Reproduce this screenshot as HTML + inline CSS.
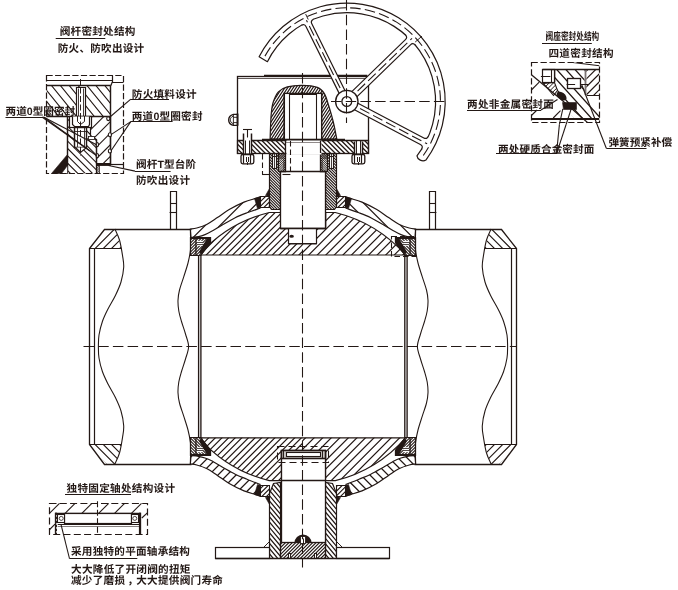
<!DOCTYPE html>
<html lang="zh"><head><meta charset="utf-8"><title>ball valve</title>
<style>
html,body{margin:0;padding:0;background:#fff}
svg{display:block}
text{text-rendering:geometricPrecision;font-family:"Liberation Sans","Noto Sans CJK SC",sans-serif;fill:#231815}
</style></head><body>
<svg width="678" height="590" viewBox="0 0 678 590">
<defs>

</defs>
<rect width="678" height="590" fill="#fff"/>
<g>
<clipPath id="c1"><path d="M107.5 229.5 L89.5 248.5 L121.5 248.5 L114.9 229 Z"/></clipPath>
<path clip-path="url(#c1)" d="M88.5 230.49L90.99 228M88.5 238.69L99.19 228M88.5 246.89L107.39 228M94.1 249.5L115.6 228M102.3 249.5L122.5 229.3M110.5 249.5L122.5 237.5M118.7 249.5L122.5 245.7" fill="none" stroke="#231815" stroke-width="1.15"/>
<clipPath id="c2"><path d="M107.5 464.5 L89.5 444.5 L121.5 444.5 L115.5 464.5 Z"/></clipPath>
<path clip-path="url(#c2)" d="M91.5 465.5L88.5 462.5M99.7 465.5L88.5 454.3M107.9 465.5L88.5 446.1M116.1 465.5L94.1 443.5M122.5 463.69L102.31 443.5M122.5 455.49L110.51 443.5M122.5 447.29L118.71 443.5" fill="none" stroke="#231815" stroke-width="1.15"/>
<path d="M191.5 229.5 L104.5 229.5 L89.5 248.5 L89.5 444.5 L104.5 464.5 L191.5 464.5" fill="none" stroke="#231815" stroke-width="1.32" />
<line x1="94.5" y1="248.4" x2="94.5" y2="444.6" stroke="#231815" stroke-width="1.2" />
<line x1="89.4" y1="248.5" x2="121.8" y2="248.5" stroke="#231815" stroke-width="1.2" />
<line x1="89.4" y1="444.5" x2="121.2" y2="444.5" stroke="#231815" stroke-width="1.2" />
<path d="M114.9 229 C115.67 230.83 118.23 235.6 119.5 240 C120.77 244.4 121.8 250.87 122.5 255.4 C123.2 259.93 123.95 262.77 123.7 267.2 C123.45 271.63 122.38 277.28 121 282 C119.62 286.72 117.57 291 115.4 295.5 C113.23 300 110.17 304.67 108 309 C105.83 313.33 103.9 317.17 102.4 321.5 C100.9 325.83 99.67 330.83 99 335 C98.33 339.17 98.4 342.67 98.4 346.5 C98.4 350.33 98.33 353.83 99 358 C99.67 362.17 100.9 367.17 102.4 371.5 C103.9 375.83 105.83 379.67 108 384 C110.17 388.33 113.23 393 115.4 397.5 C117.57 402 119.62 406.28 121 411 C122.38 415.72 123.45 421.37 123.7 425.8 C123.95 430.23 123.2 433.07 122.5 437.6 C121.8 442.13 120.77 448.6 119.5 453 C118.23 457.4 115.67 462.17 114.9 464" fill="none" stroke="#231815" stroke-width="1.08" />
<path d="M190.4 229 C190.5 230.83 191 236.38 191 240 C191 243.62 190.9 246.87 190.4 250.7 C189.9 254.53 189.1 258.68 188 263 C186.9 267.32 185.22 272.1 183.8 276.6 C182.38 281.1 180.47 286.07 179.5 290 C178.53 293.93 178.12 296.7 178 300.2 C177.88 303.7 178.22 307.45 178.8 311 C179.38 314.55 180.38 317.67 181.5 321.5 C182.62 325.33 184.32 329.83 185.5 334 C186.68 338.17 188.6 342.33 188.6 346.5 C188.6 350.67 186.68 354.83 185.5 359 C184.32 363.17 182.62 367.67 181.5 371.5 C180.38 375.33 179.38 378.45 178.8 382 C178.22 385.55 177.88 389.3 178 392.8 C178.12 396.3 178.53 399.07 179.5 403 C180.47 406.93 182.38 411.9 183.8 416.4 C185.22 420.9 186.9 425.68 188 430 C189.1 434.32 189.9 438.47 190.4 442.3 C190.9 446.13 191 449.38 191 453 C191 456.62 190.5 462.17 190.4 464" fill="none" stroke="#231815" stroke-width="1.08" />
<path d="M170.5 229.5 L170.5 191.5 L176.5 191.5 L176.5 229.5" fill="none" stroke="#231815" stroke-width="1.2" />
<line x1="170.4" y1="203.5" x2="176" y2="203.5" stroke="#231815" stroke-width="1.08" />
<line x1="169.6" y1="212.5" x2="176.8" y2="212.5" stroke="#231815" stroke-width="1.08" />
</g>
<g transform="translate(606 0) scale(-1 1)">
<clipPath id="c3"><path d="M107.5 229.5 L89.5 248.5 L121.5 248.5 L114.9 229 Z"/></clipPath>
<path clip-path="url(#c3)" d="M88.5 230.49L90.99 228M88.5 238.69L99.19 228M88.5 246.89L107.39 228M94.1 249.5L115.6 228M102.3 249.5L122.5 229.3M110.5 249.5L122.5 237.5M118.7 249.5L122.5 245.7" fill="none" stroke="#231815" stroke-width="1.15"/>
<clipPath id="c4"><path d="M107.5 464.5 L89.5 444.5 L121.5 444.5 L115.5 464.5 Z"/></clipPath>
<path clip-path="url(#c4)" d="M91.5 465.5L88.5 462.5M99.7 465.5L88.5 454.3M107.9 465.5L88.5 446.1M116.1 465.5L94.1 443.5M122.5 463.69L102.31 443.5M122.5 455.49L110.51 443.5M122.5 447.29L118.71 443.5" fill="none" stroke="#231815" stroke-width="1.15"/>
<path d="M191.5 229.5 L104.5 229.5 L89.5 248.5 L89.5 444.5 L104.5 464.5 L191.5 464.5" fill="none" stroke="#231815" stroke-width="1.32" />
<line x1="94.5" y1="248.4" x2="94.5" y2="444.6" stroke="#231815" stroke-width="1.2" />
<line x1="89.4" y1="248.5" x2="121.8" y2="248.5" stroke="#231815" stroke-width="1.2" />
<line x1="89.4" y1="444.5" x2="121.2" y2="444.5" stroke="#231815" stroke-width="1.2" />
<path d="M114.9 229 C115.67 230.83 118.23 235.6 119.5 240 C120.77 244.4 121.8 250.87 122.5 255.4 C123.2 259.93 123.95 262.77 123.7 267.2 C123.45 271.63 122.38 277.28 121 282 C119.62 286.72 117.57 291 115.4 295.5 C113.23 300 110.17 304.67 108 309 C105.83 313.33 103.9 317.17 102.4 321.5 C100.9 325.83 99.67 330.83 99 335 C98.33 339.17 98.4 342.67 98.4 346.5 C98.4 350.33 98.33 353.83 99 358 C99.67 362.17 100.9 367.17 102.4 371.5 C103.9 375.83 105.83 379.67 108 384 C110.17 388.33 113.23 393 115.4 397.5 C117.57 402 119.62 406.28 121 411 C122.38 415.72 123.45 421.37 123.7 425.8 C123.95 430.23 123.2 433.07 122.5 437.6 C121.8 442.13 120.77 448.6 119.5 453 C118.23 457.4 115.67 462.17 114.9 464" fill="none" stroke="#231815" stroke-width="1.08" />
<path d="M190.4 229 C190.5 230.83 191 236.38 191 240 C191 243.62 190.9 246.87 190.4 250.7 C189.9 254.53 189.1 258.68 188 263 C186.9 267.32 185.22 272.1 183.8 276.6 C182.38 281.1 180.47 286.07 179.5 290 C178.53 293.93 178.12 296.7 178 300.2 C177.88 303.7 178.22 307.45 178.8 311 C179.38 314.55 180.38 317.67 181.5 321.5 C182.62 325.33 184.32 329.83 185.5 334 C186.68 338.17 188.6 342.33 188.6 346.5 C188.6 350.67 186.68 354.83 185.5 359 C184.32 363.17 182.62 367.67 181.5 371.5 C180.38 375.33 179.38 378.45 178.8 382 C178.22 385.55 177.88 389.3 178 392.8 C178.12 396.3 178.53 399.07 179.5 403 C180.47 406.93 182.38 411.9 183.8 416.4 C185.22 420.9 186.9 425.68 188 430 C189.1 434.32 189.9 438.47 190.4 442.3 C190.9 446.13 191 449.38 191 453 C191 456.62 190.5 462.17 190.4 464" fill="none" stroke="#231815" stroke-width="1.08" />
<path d="M170.5 229.5 L170.5 191.5 L176.5 191.5 L176.5 229.5" fill="none" stroke="#231815" stroke-width="1.2" />
<line x1="170.4" y1="203.5" x2="176" y2="203.5" stroke="#231815" stroke-width="1.08" />
<line x1="169.6" y1="212.5" x2="176.8" y2="212.5" stroke="#231815" stroke-width="1.08" />
</g>
<g>
<clipPath id="c5"><path d="M190.4 229 C191.47 228.83 194.02 228.8 196.8 228 C199.58 227.2 203.67 225.93 207.1 224.2 C210.53 222.47 213.72 220.05 217.4 217.6 C221.08 215.15 224.77 212.08 229.2 209.5 C233.63 206.92 239.57 203.95 244 202.1 C248.43 200.25 253.13 199.25 255.8 198.4 C258.47 197.55 259.3 197.23 260 197 L260 208.2 C257.83 208.97 251.13 211.22 247 212.8 C242.87 214.38 239.2 215.75 235.2 217.7 C231.2 219.65 226.93 222.23 223 224.5 C219.07 226.77 214.6 229.62 211.6 231.3 C208.6 232.98 207.17 233.72 205 234.6 C202.83 235.48 201 236.13 198.6 236.6 C196.2 237.07 191.93 237.27 190.6 237.4 Z"/></clipPath>
<path clip-path="url(#c5)" d="M189.4 196.68L190.08 196M189.4 211.53L204.93 196M189.4 226.38L219.78 196M192.23 238.4L234.63 196M207.08 238.4L249.48 196M221.93 238.4L261 199.33M236.78 238.4L261 214.18M251.62 238.4L261 229.02" fill="none" stroke="#231815" stroke-width="1.25"/>
<path d="M190.4 229 C191.47 228.83 194.02 228.8 196.8 228 C199.58 227.2 203.67 225.93 207.1 224.2 C210.53 222.47 213.72 220.05 217.4 217.6 C221.08 215.15 224.77 212.08 229.2 209.5 C233.63 206.92 239.57 203.95 244 202.1 C248.43 200.25 253.13 199.25 255.8 198.4 C258.47 197.55 259.3 197.23 260 197 L260 208.2 C257.83 208.97 251.13 211.22 247 212.8 C242.87 214.38 239.2 215.75 235.2 217.7 C231.2 219.65 226.93 222.23 223 224.5 C219.07 226.77 214.6 229.62 211.6 231.3 C208.6 232.98 207.17 233.72 205 234.6 C202.83 235.48 201 236.13 198.6 236.6 C196.2 237.07 191.93 237.27 190.6 237.4 Z" fill="none" stroke="#231815" stroke-width="1.2" />
<clipPath id="c6"><path d="M260.5 196.5 L269.5 196.5 L269.5 207.5 L260.5 207.5 Z"/></clipPath>
<path clip-path="url(#c6)" d="M259.5 197.86L261.86 195.5M259.5 202.52L266.52 195.5M259.5 207.19L270.5 196.19M262.86 208.5L270.5 200.86M267.52 208.5L270.5 205.52" fill="none" stroke="#231815" stroke-width="1.15"/>
<path d="M260.5 196.5 L269.5 196.5 L269.5 207.5 L260.5 207.5 Z" fill="none" stroke="#231815" stroke-width="1.08" />
<path d="M254.5 198.5 L260.5 196.5 L260.5 207.5 L257.5 208.5 Z" fill="#231815" stroke="#231815" stroke-width="0.6" />
<path d="M265.5 195.5 L269.5 188.5 L269.5 196.5 Z" fill="#231815" stroke="#231815" stroke-width="0.6" />
</g>
<g transform="translate(0 693) scale(1 -1)">
<clipPath id="c7"><path d="M190.4 229 C191.47 228.83 194.02 228.8 196.8 228 C199.58 227.2 203.67 225.93 207.1 224.2 C210.53 222.47 213.72 220.05 217.4 217.6 C221.08 215.15 224.77 212.08 229.2 209.5 C233.63 206.92 239.57 203.95 244 202.1 C248.43 200.25 253.13 199.25 255.8 198.4 C258.47 197.55 259.3 197.23 260 197 L260 208.6 C257.83 209.47 251.13 212.1 247 213.8 C242.87 215.5 239.2 216.83 235.2 218.8 C231.2 220.77 226.93 223.37 223 225.6 C219.07 227.83 214.6 230.63 211.6 232.2 C208.6 233.77 207.17 234.27 205 235 C202.83 235.73 201 236.2 198.6 236.6 C196.2 237 191.93 237.27 190.6 237.4 Z"/></clipPath>
<path clip-path="url(#c7)" d="M193.15 238.4L189.4 234.65M202.2 238.4L189.4 225.6M211.25 238.4L189.4 216.55M220.3 238.4L189.4 207.5M229.35 238.4L189.4 198.45M238.4 238.4L196 196M247.45 238.4L205.05 196M256.5 238.4L214.1 196M261 233.85L223.15 196M261 224.8L232.2 196M261 215.75L241.25 196M261 206.69L250.31 196M261 197.64L259.36 196" fill="none" stroke="#231815" stroke-width="1.3"/>
<path d="M190.4 229 C191.47 228.83 194.02 228.8 196.8 228 C199.58 227.2 203.67 225.93 207.1 224.2 C210.53 222.47 213.72 220.05 217.4 217.6 C221.08 215.15 224.77 212.08 229.2 209.5 C233.63 206.92 239.57 203.95 244 202.1 C248.43 200.25 253.13 199.25 255.8 198.4 C258.47 197.55 259.3 197.23 260 197 L260 208.6 C257.83 209.47 251.13 212.1 247 213.8 C242.87 215.5 239.2 216.83 235.2 218.8 C231.2 220.77 226.93 223.37 223 225.6 C219.07 227.83 214.6 230.63 211.6 232.2 C208.6 233.77 207.17 234.27 205 235 C202.83 235.73 201 236.2 198.6 236.6 C196.2 237 191.93 237.27 190.6 237.4 Z" fill="none" stroke="#231815" stroke-width="1.2" />
<clipPath id="c8"><path d="M260.5 196.5 L269.5 196.5 L269.5 207.5 L260.5 207.5 Z"/></clipPath>
<path clip-path="url(#c8)" d="M259.84 208.5L259.5 208.16M264.5 208.5L259.5 203.5M269.17 208.5L259.5 198.83M270.5 205.16L260.84 195.5M270.5 200.5L265.5 195.5M270.5 195.83L270.17 195.5" fill="none" stroke="#231815" stroke-width="1.15"/>
<path d="M260.5 196.5 L269.5 196.5 L269.5 207.5 L260.5 207.5 Z" fill="none" stroke="#231815" stroke-width="1.08" />
<path d="M254.5 198.5 L260.5 196.5 L260.5 207.5 L257.5 208.5 Z" fill="#231815" stroke="#231815" stroke-width="0.6" />
<path d="M265.5 195.5 L269.5 188.5 L269.5 196.5 Z" fill="#231815" stroke="#231815" stroke-width="0.6" />
</g>
<g transform="translate(606 0) scale(-1 1)">
<clipPath id="c9"><path d="M190.4 229 C191.47 228.83 194.02 228.8 196.8 228 C199.58 227.2 203.67 225.93 207.1 224.2 C210.53 222.47 213.72 220.05 217.4 217.6 C221.08 215.15 224.77 212.08 229.2 209.5 C233.63 206.92 239.57 203.95 244 202.1 C248.43 200.25 253.13 199.25 255.8 198.4 C258.47 197.55 259.3 197.23 260 197 L260 208.2 C257.83 208.97 251.13 211.22 247 212.8 C242.87 214.38 239.2 215.75 235.2 217.7 C231.2 219.65 226.93 222.23 223 224.5 C219.07 226.77 214.6 229.62 211.6 231.3 C208.6 232.98 207.17 233.72 205 234.6 C202.83 235.48 201 236.13 198.6 236.6 C196.2 237.07 191.93 237.27 190.6 237.4 Z"/></clipPath>
<path clip-path="url(#c9)" d="M189.4 196.68L190.08 196M189.4 211.53L204.93 196M189.4 226.38L219.78 196M192.23 238.4L234.63 196M207.08 238.4L249.48 196M221.93 238.4L261 199.33M236.78 238.4L261 214.18M251.62 238.4L261 229.02" fill="none" stroke="#231815" stroke-width="1.25"/>
<path d="M190.4 229 C191.47 228.83 194.02 228.8 196.8 228 C199.58 227.2 203.67 225.93 207.1 224.2 C210.53 222.47 213.72 220.05 217.4 217.6 C221.08 215.15 224.77 212.08 229.2 209.5 C233.63 206.92 239.57 203.95 244 202.1 C248.43 200.25 253.13 199.25 255.8 198.4 C258.47 197.55 259.3 197.23 260 197 L260 208.2 C257.83 208.97 251.13 211.22 247 212.8 C242.87 214.38 239.2 215.75 235.2 217.7 C231.2 219.65 226.93 222.23 223 224.5 C219.07 226.77 214.6 229.62 211.6 231.3 C208.6 232.98 207.17 233.72 205 234.6 C202.83 235.48 201 236.13 198.6 236.6 C196.2 237.07 191.93 237.27 190.6 237.4 Z" fill="none" stroke="#231815" stroke-width="1.2" />
<clipPath id="c10"><path d="M260.5 196.5 L269.5 196.5 L269.5 207.5 L260.5 207.5 Z"/></clipPath>
<path clip-path="url(#c10)" d="M259.84 208.5L259.5 208.16M264.5 208.5L259.5 203.5M269.17 208.5L259.5 198.83M270.5 205.16L260.84 195.5M270.5 200.5L265.5 195.5M270.5 195.83L270.17 195.5" fill="none" stroke="#231815" stroke-width="1.15"/>
<path d="M260.5 196.5 L269.5 196.5 L269.5 207.5 L260.5 207.5 Z" fill="none" stroke="#231815" stroke-width="1.08" />
<path d="M254.5 198.5 L260.5 196.5 L260.5 207.5 L257.5 208.5 Z" fill="#231815" stroke="#231815" stroke-width="0.6" />
<path d="M265.5 195.5 L269.5 188.5 L269.5 196.5 Z" fill="#231815" stroke="#231815" stroke-width="0.6" />
</g>
<g transform="translate(606 0) scale(-1 1) translate(0 693) scale(1 -1)">
<clipPath id="c11"><path d="M190.4 229 C191.47 228.83 194.02 228.8 196.8 228 C199.58 227.2 203.67 225.93 207.1 224.2 C210.53 222.47 213.72 220.05 217.4 217.6 C221.08 215.15 224.77 212.08 229.2 209.5 C233.63 206.92 239.57 203.95 244 202.1 C248.43 200.25 253.13 199.25 255.8 198.4 C258.47 197.55 259.3 197.23 260 197 L260 208.6 C257.83 209.47 251.13 212.1 247 213.8 C242.87 215.5 239.2 216.83 235.2 218.8 C231.2 220.77 226.93 223.37 223 225.6 C219.07 227.83 214.6 230.63 211.6 232.2 C208.6 233.77 207.17 234.27 205 235 C202.83 235.73 201 236.2 198.6 236.6 C196.2 237 191.93 237.27 190.6 237.4 Z"/></clipPath>
<path clip-path="url(#c11)" d="M193.15 238.4L189.4 234.65M202.2 238.4L189.4 225.6M211.25 238.4L189.4 216.55M220.3 238.4L189.4 207.5M229.35 238.4L189.4 198.45M238.4 238.4L196 196M247.45 238.4L205.05 196M256.5 238.4L214.1 196M261 233.85L223.15 196M261 224.8L232.2 196M261 215.75L241.25 196M261 206.69L250.31 196M261 197.64L259.36 196" fill="none" stroke="#231815" stroke-width="1.3"/>
<path d="M190.4 229 C191.47 228.83 194.02 228.8 196.8 228 C199.58 227.2 203.67 225.93 207.1 224.2 C210.53 222.47 213.72 220.05 217.4 217.6 C221.08 215.15 224.77 212.08 229.2 209.5 C233.63 206.92 239.57 203.95 244 202.1 C248.43 200.25 253.13 199.25 255.8 198.4 C258.47 197.55 259.3 197.23 260 197 L260 208.6 C257.83 209.47 251.13 212.1 247 213.8 C242.87 215.5 239.2 216.83 235.2 218.8 C231.2 220.77 226.93 223.37 223 225.6 C219.07 227.83 214.6 230.63 211.6 232.2 C208.6 233.77 207.17 234.27 205 235 C202.83 235.73 201 236.2 198.6 236.6 C196.2 237 191.93 237.27 190.6 237.4 Z" fill="none" stroke="#231815" stroke-width="1.2" />
<clipPath id="c12"><path d="M260.5 196.5 L269.5 196.5 L269.5 207.5 L260.5 207.5 Z"/></clipPath>
<path clip-path="url(#c12)" d="M259.5 197.86L261.86 195.5M259.5 202.52L266.52 195.5M259.5 207.19L270.5 196.19M262.86 208.5L270.5 200.86M267.52 208.5L270.5 205.52" fill="none" stroke="#231815" stroke-width="1.15"/>
<path d="M260.5 196.5 L269.5 196.5 L269.5 207.5 L260.5 207.5 Z" fill="none" stroke="#231815" stroke-width="1.08" />
<path d="M254.5 198.5 L260.5 196.5 L260.5 207.5 L257.5 208.5 Z" fill="#231815" stroke="#231815" stroke-width="0.6" />
<path d="M265.5 195.5 L269.5 188.5 L269.5 196.5 Z" fill="#231815" stroke="#231815" stroke-width="0.6" />
</g>
<clipPath id="cpL"><rect x="0" y="0" width="302.4" height="590"/></clipPath><clipPath id="cpR"><rect x="302.4" y="0" width="400" height="590"/></clipPath>
<g clip-path="url(#cpL)">
<clipPath id="c13"><path d="M199 255 A138 138 0 0 1 269.32 212.5 L280.7 212.5 L280.7 228.3 L288.6 228.3 L288.6 243.8 L316.2 243.8 L316.2 228.3 L325.7 228.3 L325.7 212.5 L335.28 212.5 A138 138 0 0 1 405.6 255 Z"/></clipPath>
<path clip-path="url(#c13)" d="M189 206.02L191.02 204M189 212.64L197.64 204M189 219.26L204.26 204M189 225.87L210.87 204M189 232.49L217.49 204M189 239.11L224.11 204M189 245.73L230.73 204M189 252.35L237.35 204M189 258.97L243.97 204M193.58 261L250.58 204M200.2 261L257.2 204M206.82 261L263.82 204M213.44 261L270.44 204M220.06 261L277.06 204M226.68 261L283.68 204M233.3 261L290.3 204M239.91 261L296.91 204M246.53 261L303.53 204M253.15 261L304 210.15M259.77 261L304 216.77M266.39 261L304 223.39M273.01 261L304 230.01M279.63 261L304 236.63M286.24 261L304 243.24M292.86 261L304 249.86M299.48 261L304 256.48" fill="none" stroke="#231815" stroke-width="1.2"/>
</g>
<g clip-path="url(#cpR)">
<clipPath id="c14"><path d="M199 255 A138 138 0 0 1 269.32 212.5 L280.7 212.5 L280.7 228.3 L288.6 228.3 L288.6 243.8 L316.2 243.8 L316.2 228.3 L325.7 228.3 L325.7 212.5 L335.28 212.5 A138 138 0 0 1 405.6 255 Z"/></clipPath>
<path clip-path="url(#c14)" d="M301 211.37L308.37 204M301 219.93L316.93 204M301 228.48L325.48 204M301 237.04L334.04 204M301 245.59L342.59 204M301 254.15L351.15 204M302.71 261L359.71 204M311.26 261L368.26 204M319.82 261L376.82 204M328.37 261L385.37 204M336.93 261L393.93 204M345.49 261L402.49 204M354.04 261L411.04 204M362.6 261L413 210.6M371.15 261L413 219.15M379.71 261L413 227.71M388.27 261L413 236.27M396.82 261L413 244.82M405.38 261L413 253.38" fill="none" stroke="#231815" stroke-width="1.2"/>
</g>
<path d="M199 255 A138 138 0 0 1 269.32 212.5 L280.7 212.5 L280.7 228.3 L288.6 228.3 L288.6 243.8 L316.2 243.8 L316.2 228.3 L325.7 228.3 L325.7 212.5 L335.28 212.5 A138 138 0 0 1 405.6 255 Z" fill="none" stroke="#231815" stroke-width="1.2" />
<g clip-path="url(#cpL)">
<clipPath id="c15"><path d="M199 437.8 A138 138 0 0 0 269.32 480.7 L281.5 480.7 L281.5 450.5 L325.5 450.5 L325.5 480.7 L335.28 480.7 A138 138 0 0 0 405.6 437.8 Z"/></clipPath>
<path clip-path="url(#c15)" d="M189 431.05L189.05 431M189 437.67L195.67 431M189 444.28L202.28 431M189 450.9L208.9 431M189 457.52L215.52 431M189 464.14L222.14 431M189 470.76L228.76 431M189 477.38L235.38 431M189 484L242 431M191.61 488L248.61 431M198.23 488L255.23 431M204.85 488L261.85 431M211.47 488L268.47 431M218.09 488L275.09 431M224.71 488L281.71 431M231.33 488L288.33 431M237.94 488L294.94 431M244.56 488L301.56 431M251.18 488L304 435.18M257.8 488L304 441.8M264.42 488L304 448.42M271.04 488L304 455.04M277.66 488L304 461.66M284.27 488L304 468.27M290.89 488L304 474.89M297.51 488L304 481.51" fill="none" stroke="#231815" stroke-width="1.2"/>
</g>
<g clip-path="url(#cpR)">
<clipPath id="c16"><path d="M199 437.8 A138 138 0 0 0 269.32 480.7 L281.5 480.7 L281.5 450.5 L325.5 450.5 L325.5 480.7 L335.28 480.7 A138 138 0 0 0 405.6 437.8 Z"/></clipPath>
<path clip-path="url(#c16)" d="M301 433.83L303.83 431M301 442.38L312.38 431M301 450.94L320.94 431M301 459.49L329.49 431M301 468.05L338.05 431M301 476.61L346.61 431M301 485.16L355.16 431M306.72 488L363.72 431M315.27 488L372.27 431M323.83 488L380.83 431M332.39 488L389.39 431M340.94 488L397.94 431M349.5 488L406.5 431M358.05 488L413 433.05M366.61 488L413 441.61M375.17 488L413 450.17M383.72 488L413 458.72M392.28 488L413 467.28M400.83 488L413 475.83M409.39 488L413 484.39" fill="none" stroke="#231815" stroke-width="1.2"/>
</g>
<path d="M199 437.8 A138 138 0 0 0 269.32 480.7 L281.5 480.7 L281.5 450.5 L325.5 450.5 L325.5 480.7 L335.28 480.7 A138 138 0 0 0 405.6 437.8 Z" fill="none" stroke="#231815" stroke-width="1.2" />
<path d="M198.6 255 L198.6 437.8" stroke="#231815" stroke-width="1.35"/>
<path d="M200.9 255 L200.9 437.8" stroke="#231815" stroke-width="1.35"/>
<path d="M404.8 255 L404.8 437.8" stroke="#231815" stroke-width="1.35"/>
<path d="M407.1 255 L407.1 437.8" stroke="#231815" stroke-width="1.35"/>
<g>
<path d="M190.5 237.5 L210.5 237.5 L210.5 242.5 L200.5 255.5 L190.5 255.5 Z" fill="#fff" stroke="#231815" stroke-width="1.08" />
<clipPath id="c17"><path d="M190.5 237.5 L210.5 237.5 L210.5 242.5 L200.5 255.5 L190.5 255.5 Z"/></clipPath>
<path clip-path="url(#c17)" d="M189.5 238.16L191.16 236.5M189.5 241.13L194.13 236.5M189.5 244.1L197.1 236.5M189.5 247.07L200.07 236.5M189.5 250.04L203.04 236.5M189.5 253.01L206.01 236.5M189.5 255.98L208.98 236.5M191.95 256.5L211.5 236.95M194.92 256.5L211.5 239.92M197.89 256.5L211.5 242.89M200.86 256.5L211.5 245.86M203.83 256.5L211.5 248.83M206.8 256.5L211.5 251.8M209.77 256.5L211.5 254.77" fill="none" stroke="#231815" stroke-width="1.05"/>
<path d="M190.5 237.5 L210.5 237.5 L210.5 242.5 L200.5 255.5 L190.5 255.5 Z" fill="none" stroke="#231815" stroke-width="1.2" />
<path d="M190.5 238.3 L210.5 238.3" stroke="#231815" stroke-width="1.5"/>
<path d="M195.9 239 L195.9 255" stroke="#231815" stroke-width="1.6" stroke-opacity="0.8"/>
<path d="M207.3 238 L210.6 238 L210.6 242.6 L201.8 253.6 L199.6 253.4 L199.4 251.3 Z" fill="#231815"/>
<rect x="197" y="240.8" width="5.8" height="5" fill="#fff"/>
<path d="M197 242.5 L203 242.5 M197 244.5 L203 244.5" stroke="#231815" stroke-width="0.8"/>
</g>
<g transform="translate(0 693) scale(1 -1)">
<path d="M190.5 237.5 L210.5 237.5 L210.5 242.5 L200.5 255.5 L190.5 255.5 Z" fill="#fff" stroke="#231815" stroke-width="1.08" />
<clipPath id="c18"><path d="M190.5 237.5 L210.5 237.5 L210.5 242.5 L200.5 255.5 L190.5 255.5 Z"/></clipPath>
<path clip-path="url(#c18)" d="M189.5 238.16L191.16 236.5M189.5 241.13L194.13 236.5M189.5 244.1L197.1 236.5M189.5 247.07L200.07 236.5M189.5 250.04L203.04 236.5M189.5 253.01L206.01 236.5M189.5 255.98L208.98 236.5M191.95 256.5L211.5 236.95M194.92 256.5L211.5 239.92M197.89 256.5L211.5 242.89M200.86 256.5L211.5 245.86M203.83 256.5L211.5 248.83M206.8 256.5L211.5 251.8M209.77 256.5L211.5 254.77" fill="none" stroke="#231815" stroke-width="1.05"/>
<path d="M190.5 237.5 L210.5 237.5 L210.5 242.5 L200.5 255.5 L190.5 255.5 Z" fill="none" stroke="#231815" stroke-width="1.2" />
<path d="M190.5 238.3 L210.5 238.3" stroke="#231815" stroke-width="1.5"/>
<path d="M195.9 239 L195.9 255" stroke="#231815" stroke-width="1.6" stroke-opacity="0.8"/>
<path d="M207.3 238 L210.6 238 L210.6 242.6 L201.8 253.6 L199.6 253.4 L199.4 251.3 Z" fill="#231815"/>
<rect x="197" y="240.8" width="5.8" height="5" fill="#fff"/>
<path d="M197 242.5 L203 242.5 M197 244.5 L203 244.5" stroke="#231815" stroke-width="0.8"/>
</g>
<g transform="translate(606 0) scale(-1 1)">
<path d="M190.5 237.5 L210.5 237.5 L210.5 242.5 L200.5 255.5 L190.5 255.5 Z" fill="#fff" stroke="#231815" stroke-width="1.08" />
<clipPath id="c19"><path d="M190.5 237.5 L210.5 237.5 L210.5 242.5 L200.5 255.5 L190.5 255.5 Z"/></clipPath>
<path clip-path="url(#c19)" d="M189.5 238.16L191.16 236.5M189.5 241.13L194.13 236.5M189.5 244.1L197.1 236.5M189.5 247.07L200.07 236.5M189.5 250.04L203.04 236.5M189.5 253.01L206.01 236.5M189.5 255.98L208.98 236.5M191.95 256.5L211.5 236.95M194.92 256.5L211.5 239.92M197.89 256.5L211.5 242.89M200.86 256.5L211.5 245.86M203.83 256.5L211.5 248.83M206.8 256.5L211.5 251.8M209.77 256.5L211.5 254.77" fill="none" stroke="#231815" stroke-width="1.05"/>
<path d="M190.5 237.5 L210.5 237.5 L210.5 242.5 L200.5 255.5 L190.5 255.5 Z" fill="none" stroke="#231815" stroke-width="1.2" />
<path d="M190.5 238.3 L210.5 238.3" stroke="#231815" stroke-width="1.5"/>
<path d="M195.9 239 L195.9 255" stroke="#231815" stroke-width="1.6" stroke-opacity="0.8"/>
<path d="M207.3 238 L210.6 238 L210.6 242.6 L201.8 253.6 L199.6 253.4 L199.4 251.3 Z" fill="#231815"/>
<rect x="197" y="240.8" width="5.8" height="5" fill="#fff"/>
<path d="M197 242.5 L203 242.5 M197 244.5 L203 244.5" stroke="#231815" stroke-width="0.8"/>
</g>
<g transform="translate(606 0) scale(-1 1) translate(0 693) scale(1 -1)">
<path d="M190.5 237.5 L210.5 237.5 L210.5 242.5 L200.5 255.5 L190.5 255.5 Z" fill="#fff" stroke="#231815" stroke-width="1.08" />
<clipPath id="c20"><path d="M190.5 237.5 L210.5 237.5 L210.5 242.5 L200.5 255.5 L190.5 255.5 Z"/></clipPath>
<path clip-path="url(#c20)" d="M189.5 238.16L191.16 236.5M189.5 241.13L194.13 236.5M189.5 244.1L197.1 236.5M189.5 247.07L200.07 236.5M189.5 250.04L203.04 236.5M189.5 253.01L206.01 236.5M189.5 255.98L208.98 236.5M191.95 256.5L211.5 236.95M194.92 256.5L211.5 239.92M197.89 256.5L211.5 242.89M200.86 256.5L211.5 245.86M203.83 256.5L211.5 248.83M206.8 256.5L211.5 251.8M209.77 256.5L211.5 254.77" fill="none" stroke="#231815" stroke-width="1.05"/>
<path d="M190.5 237.5 L210.5 237.5 L210.5 242.5 L200.5 255.5 L190.5 255.5 Z" fill="none" stroke="#231815" stroke-width="1.2" />
<path d="M190.5 238.3 L210.5 238.3" stroke="#231815" stroke-width="1.5"/>
<path d="M195.9 239 L195.9 255" stroke="#231815" stroke-width="1.6" stroke-opacity="0.8"/>
<path d="M207.3 238 L210.6 238 L210.6 242.6 L201.8 253.6 L199.6 253.4 L199.4 251.3 Z" fill="#231815"/>
<rect x="197" y="240.8" width="5.8" height="5" fill="#fff"/>
<path d="M197 242.5 L203 242.5 M197 244.5 L203 244.5" stroke="#231815" stroke-width="0.8"/>
</g>
<g>
<clipPath id="c21"><path d="M269.5 153.5 L269.5 206.5 L271.5 209.5 L280.5 209.5 L280.5 171.5 L278.5 171.5 L278.5 153.5 Z"/></clipPath>
<path clip-path="url(#c21)" d="M269.9 210.5L268.5 209.1M272.73 210.5L268.5 206.27M275.55 210.5L268.5 203.45M278.38 210.5L268.5 200.62M281.21 210.5L268.5 197.79M281.5 207.96L268.5 194.96M281.5 205.13L268.5 192.13M281.5 202.3L268.5 189.3M281.5 199.48L268.5 186.48M281.5 196.65L268.5 183.65M281.5 193.82L268.5 180.82M281.5 190.99L268.5 177.99M281.5 188.16L268.5 175.16M281.5 185.33L268.5 172.33M281.5 182.51L268.5 169.51M281.5 179.68L268.5 166.68M281.5 176.85L268.5 163.85M281.5 174.02L268.5 161.02M281.5 171.19L268.5 158.19M281.5 168.36L268.5 155.36M281.5 165.53L268.5 152.53M281.5 162.71L271.29 152.5M281.5 159.88L274.12 152.5M281.5 157.05L276.95 152.5M281.5 154.22L279.78 152.5" fill="none" stroke="#231815" stroke-width="1.1"/>
<path d="M269.5 153.5 L269.5 206.5 L271.5 209.5 L280.5 209.5 L280.5 171.5 L278.5 171.5 L278.5 153.5 Z" fill="none" stroke="#231815" stroke-width="1.2" />
<clipPath id="c22"><path d="M278.5 153.5 L285.5 153.5 L285.5 171.5 L278.5 171.5 Z"/></clipPath>
<path clip-path="url(#c22)" d="M277.5 152.7L277.7 152.5M277.5 154.54L279.54 152.5M277.5 156.38L281.38 152.5M277.5 158.22L283.22 152.5M277.5 160.06L285.06 152.5M277.5 161.9L286.5 152.9M277.5 163.73L286.5 154.73M277.5 165.57L286.5 156.57M277.5 167.41L286.5 158.41M277.5 169.25L286.5 160.25M277.5 171.09L286.5 162.09M277.93 172.5L286.5 163.93M279.77 172.5L286.5 165.77M281.6 172.5L286.5 167.6M283.44 172.5L286.5 169.44M285.28 172.5L286.5 171.28" fill="none" stroke="#231815" stroke-width="0.9"/>
<path d="M278.5 153.5 L285.5 153.5 L285.5 171.5 L278.5 171.5 Z" fill="none" stroke="#231815" stroke-width="0.96" />
<clipPath id="c23"><path d="M279.5 153.5 L285.5 153.5 L285.5 171.5 L283.5 171.5 L283.5 158.5 L279.5 158.5 Z"/></clipPath>
<path clip-path="url(#c23)" d="M278.5 153.54L279.54 152.5M278.5 155.38L281.38 152.5M278.5 157.22L283.22 152.5M278.5 159.06L285.06 152.5M278.5 160.9L286.5 152.9M278.5 162.73L286.5 154.73M278.5 164.57L286.5 156.57M278.5 166.41L286.5 158.41M278.5 168.25L286.5 160.25M278.5 170.09L286.5 162.09M278.5 171.93L286.5 163.93M279.77 172.5L286.5 165.77M281.6 172.5L286.5 167.6M283.44 172.5L286.5 169.44M285.28 172.5L286.5 171.28" fill="none" stroke="#231815" stroke-width="0.9"/>
<path d="M279.5 153.5 L285.5 153.5 L285.5 171.5 L283.5 171.5 L283.5 158.5 L279.5 158.5 Z" fill="none" stroke="#231815" stroke-width="0.36" />
<rect x="272.5" y="142.5" width="4" height="26" fill="#fff" stroke="#231815" stroke-width="1.08" />
<line x1="274.5" y1="143" x2="274.5" y2="168" stroke="#231815" stroke-width="0.84" />
<line x1="271" y1="153.5" x2="278" y2="153.5" stroke="#231815" stroke-width="1.44" />
<line x1="272" y1="156.5" x2="277" y2="156.5" stroke="#231815" stroke-width="1.08" />
</g>
<g transform="translate(606 0) scale(-1 1)">
<clipPath id="c24"><path d="M269.5 153.5 L269.5 206.5 L271.5 209.5 L280.5 209.5 L280.5 171.5 L278.5 171.5 L278.5 153.5 Z"/></clipPath>
<path clip-path="url(#c24)" d="M268.5 152.94L268.94 152.5M268.5 155.76L271.76 152.5M268.5 158.59L274.59 152.5M268.5 161.42L277.42 152.5M268.5 164.25L280.25 152.5M268.5 167.08L281.5 154.08M268.5 169.91L281.5 156.91M268.5 172.73L281.5 159.73M268.5 175.56L281.5 162.56M268.5 178.39L281.5 165.39M268.5 181.22L281.5 168.22M268.5 184.05L281.5 171.05M268.5 186.88L281.5 173.88M268.5 189.71L281.5 176.71M268.5 192.53L281.5 179.53M268.5 195.36L281.5 182.36M268.5 198.19L281.5 185.19M268.5 201.02L281.5 188.02M268.5 203.85L281.5 190.85M268.5 206.68L281.5 193.68M268.5 209.5L281.5 196.5M270.33 210.5L281.5 199.33M273.16 210.5L281.5 202.16M275.99 210.5L281.5 204.99M278.82 210.5L281.5 207.82" fill="none" stroke="#231815" stroke-width="1.1"/>
<path d="M269.5 153.5 L269.5 206.5 L271.5 209.5 L280.5 209.5 L280.5 171.5 L278.5 171.5 L278.5 153.5 Z" fill="none" stroke="#231815" stroke-width="1.2" />
<clipPath id="c25"><path d="M278.5 153.5 L285.5 153.5 L285.5 171.5 L278.5 171.5 Z"/></clipPath>
<path clip-path="url(#c25)" d="M277.5 152.7L277.7 152.5M277.5 154.54L279.54 152.5M277.5 156.38L281.38 152.5M277.5 158.22L283.22 152.5M277.5 160.06L285.06 152.5M277.5 161.9L286.5 152.9M277.5 163.73L286.5 154.73M277.5 165.57L286.5 156.57M277.5 167.41L286.5 158.41M277.5 169.25L286.5 160.25M277.5 171.09L286.5 162.09M277.93 172.5L286.5 163.93M279.77 172.5L286.5 165.77M281.6 172.5L286.5 167.6M283.44 172.5L286.5 169.44M285.28 172.5L286.5 171.28" fill="none" stroke="#231815" stroke-width="0.9"/>
<path d="M278.5 153.5 L285.5 153.5 L285.5 171.5 L278.5 171.5 Z" fill="none" stroke="#231815" stroke-width="0.96" />
<clipPath id="c26"><path d="M279.5 153.5 L285.5 153.5 L285.5 171.5 L283.5 171.5 L283.5 158.5 L279.5 158.5 Z"/></clipPath>
<path clip-path="url(#c26)" d="M278.5 153.54L279.54 152.5M278.5 155.38L281.38 152.5M278.5 157.22L283.22 152.5M278.5 159.06L285.06 152.5M278.5 160.9L286.5 152.9M278.5 162.73L286.5 154.73M278.5 164.57L286.5 156.57M278.5 166.41L286.5 158.41M278.5 168.25L286.5 160.25M278.5 170.09L286.5 162.09M278.5 171.93L286.5 163.93M279.77 172.5L286.5 165.77M281.6 172.5L286.5 167.6M283.44 172.5L286.5 169.44M285.28 172.5L286.5 171.28" fill="none" stroke="#231815" stroke-width="0.9"/>
<path d="M279.5 153.5 L285.5 153.5 L285.5 171.5 L283.5 171.5 L283.5 158.5 L279.5 158.5 Z" fill="none" stroke="#231815" stroke-width="0.36" />
<rect x="272.5" y="142.5" width="4" height="26" fill="#fff" stroke="#231815" stroke-width="1.08" />
<line x1="274.5" y1="143" x2="274.5" y2="168" stroke="#231815" stroke-width="0.84" />
<line x1="271" y1="153.5" x2="278" y2="153.5" stroke="#231815" stroke-width="1.44" />
<line x1="272" y1="156.5" x2="277" y2="156.5" stroke="#231815" stroke-width="1.08" />
</g>
<path d="M285.5 140.5 L285.5 171.5 L280.5 171.5 L280.5 228.5 L325.5 228.5 L325.5 171.5 L320.5 171.5 L320.5 140.5" fill="#fff" stroke="#231815" stroke-width="1.32" />
<line x1="280.7" y1="171.5" x2="325.7" y2="171.5" stroke="#231815" stroke-width="1.32" />
<path d="M288.5 228.5 L288.5 243.5 L316.5 243.5 L316.5 228.5" fill="#fff" stroke="#231815" stroke-width="1.2" />
<ellipse cx="291.6" cy="236.2" rx="2.3" ry="1.5" fill="#231815"/>
<line x1="280.7" y1="228.5" x2="325.7" y2="228.5" stroke="#231815" stroke-width="1.44" />
<rect x="237.5" y="76.5" width="131" height="77" fill="#fff" stroke="#231815" stroke-width="1.32" />
<line x1="264" y1="75.5" x2="367.3" y2="75.5" stroke="#231815" stroke-width="1.44" />
<line x1="237.2" y1="78.5" x2="368.9" y2="78.5" stroke="#231815" stroke-width="0.72" />
<clipPath id="c27"><path d="M237.5 140.5 L285.5 140.5 L285.5 153.5 L237.5 153.5 Z"/></clipPath>
<path clip-path="url(#c27)" d="M238.5 154.5L236.5 152.5M243.17 154.5L236.5 147.83M247.84 154.5L236.5 143.16M252.5 154.5L237.5 139.5M257.17 154.5L242.17 139.5M261.84 154.5L246.84 139.5M266.51 154.5L251.51 139.5M271.17 154.5L256.17 139.5M275.84 154.5L260.84 139.5M280.51 154.5L265.51 139.5M285.17 154.5L270.17 139.5M286.5 151.16L274.84 139.5M286.5 146.49L279.51 139.5M286.5 141.83L284.17 139.5" fill="none" stroke="#231815" stroke-width="1.35"/>
<path d="M237.5 140.5 L285.5 140.5 L285.5 153.5 L237.5 153.5 Z" fill="none" stroke="#231815" stroke-width="1.2" />
<clipPath id="c28"><path d="M320.5 140.5 L368.5 140.5 L368.5 153.5 L320.5 153.5 Z"/></clipPath>
<path clip-path="url(#c28)" d="M322.51 154.5L319.5 151.49M327.18 154.5L319.5 146.82M331.84 154.5L319.5 142.16M336.51 154.5L321.51 139.5M341.18 154.5L326.18 139.5M345.84 154.5L330.84 139.5M350.51 154.5L335.51 139.5M355.18 154.5L340.18 139.5M359.84 154.5L344.84 139.5M364.51 154.5L349.51 139.5M369.18 154.5L354.18 139.5M369.5 150.16L358.84 139.5M369.5 145.49L363.51 139.5M369.5 140.82L368.18 139.5" fill="none" stroke="#231815" stroke-width="1.35"/>
<path d="M320.5 140.5 L368.5 140.5 L368.5 153.5 L320.5 153.5 Z" fill="none" stroke="#231815" stroke-width="1.2" />
<line x1="237.2" y1="140.5" x2="368.9" y2="140.5" stroke="#231815" stroke-width="1.44" />
<clipPath id="c29"><path d="M270.1 139 C270.18 136.67 270.4 129.32 270.6 125 C270.8 120.68 270.88 116.85 271.3 113.1 C271.72 109.35 271.92 106.03 273.1 102.5 C274.28 98.97 276.03 94.5 278.4 91.9 C280.77 89.3 283.32 88 287.3 86.9 C291.28 85.8 297.3 85.22 302.3 85.3 C307.3 85.38 313.62 86.02 317.3 87.4 C320.98 88.78 322.48 90.5 324.4 93.6 C326.32 96.7 327.32 101.28 328.8 106 C330.28 110.72 331.97 116.4 333.3 121.9 C334.63 127.4 336.22 136.15 336.8 139 L321.8 139 L321.8 93.3 L284 93.3 L284 139 Z"/></clipPath>
<path clip-path="url(#c29)" d="M269.1 86.14L270.35 84.22M269.1 90.45L273.15 84.22M269.1 94.77L275.95 84.22M269.1 99.08L278.75 84.22M269.1 103.4L281.55 84.22M269.1 107.71L284.36 84.22M269.1 112.03L287.16 84.22M269.1 116.34L289.96 84.22M269.1 120.66L292.76 84.22M269.1 124.97L295.56 84.22M269.1 129.29L298.37 84.22M269.1 133.6L301.17 84.22M269.1 137.91L303.97 84.22M270.55 140L306.77 84.22M273.35 140L309.57 84.22M276.15 140L312.38 84.22M278.95 140L315.18 84.22M281.76 140L317.98 84.22M284.56 140L320.78 84.22M287.36 140L323.58 84.22M290.16 140L326.39 84.22M292.96 140L329.19 84.22M295.77 140L331.99 84.22M298.57 140L334.79 84.22M301.37 140L337.59 84.22M304.17 140L337.8 88.22M306.97 140L337.8 92.53M309.78 140L337.8 96.85M312.58 140L337.8 101.16M315.38 140L337.8 105.48M318.18 140L337.8 109.79M320.98 140L337.8 114.11M323.79 140L337.8 118.42M326.59 140L337.8 122.74M329.39 140L337.8 127.05M332.19 140L337.8 131.37M335 140L337.8 135.68M337.8 140L337.8 140" fill="none" stroke="#231815" stroke-width="1.2"/>
<path d="M270.1 139 C270.18 136.67 270.4 129.32 270.6 125 C270.8 120.68 270.88 116.85 271.3 113.1 C271.72 109.35 271.92 106.03 273.1 102.5 C274.28 98.97 276.03 94.5 278.4 91.9 C280.77 89.3 283.32 88 287.3 86.9 C291.28 85.8 297.3 85.22 302.3 85.3 C307.3 85.38 313.62 86.02 317.3 87.4 C320.98 88.78 322.48 90.5 324.4 93.6 C326.32 96.7 327.32 101.28 328.8 106 C330.28 110.72 331.97 116.4 333.3 121.9 C334.63 127.4 336.22 136.15 336.8 139 L321.8 139 L321.8 93.3 L284 93.3 L284 139 Z" fill="none" stroke="#231815" stroke-width="1.2" />
<rect x="284.5" y="93.5" width="37" height="46" fill="#fff" stroke="#231815" stroke-width="1.08" />
<path d="M289.5 139.5 L289.5 94.5 L316.5 94.5 L316.5 139.5" fill="none" stroke="#231815" stroke-width="1.08" />
<line x1="262" y1="139.5" x2="345" y2="139.5" stroke="#231815" stroke-width="1.68" />
<rect x="286.5" y="140.5" width="35" height="14" fill="#fff" stroke="none" stroke-width="0" />
<line x1="285.5" y1="140.5" x2="285.5" y2="153" stroke="#231815" stroke-width="1.2" />
<line x1="320.5" y1="140.5" x2="320.5" y2="153" stroke="#231815" stroke-width="1.2" />
<line x1="285.8" y1="142.5" x2="320.9" y2="142.5" stroke="#231815" stroke-width="0.84" stroke-opacity="0.6"/>
<path d="M237.5 114.4 L233.4 114.4 C230.5 115.2 228.7 117.3 228.7 119.9 C228.7 122.5 230.5 124.6 233.4 125.4 L237.5 125.4 Z" fill="#fff" stroke="#231815" stroke-width="1.4"/>
<path d="M233.4 114.4 L233.4 125.4 M233.4 117.3 L237.5 117.3 M233.4 122.6 L237.5 122.6 M233.4 116 C231 117 230.3 118.5 230.3 119.9 C230.3 121.3 231 122.8 233.4 123.8" fill="none" stroke="#231815" stroke-width="0.9"/>
<line x1="237.5" y1="113.5" x2="237.5" y2="125.5" stroke="#231815" stroke-width="1.68" />
<rect x="243.5" y="133.5" width="8" height="20" fill="#fff" stroke="none" stroke-width="0" />
<line x1="243.5" y1="133.5" x2="243.5" y2="154.5" stroke="#231815" stroke-width="1.5" />
<line x1="251.5" y1="133.5" x2="251.5" y2="154.5" stroke="#231815" stroke-width="1.5" />
<line x1="245.5" y1="140.5" x2="245.5" y2="154.5" stroke="#231815" stroke-width="0.96" />
<line x1="249.5" y1="140.5" x2="249.5" y2="154.5" stroke="#231815" stroke-width="0.96" />
<rect x="241" y="154.5" width="12.8" height="9.3" rx="1.8" fill="#fff" stroke="#231815" stroke-width="1.3"/>
<line x1="243.5" y1="154.6" x2="243.5" y2="163.6" stroke="#231815" stroke-width="1.2" />
<line x1="250.5" y1="154.6" x2="250.5" y2="163.6" stroke="#231815" stroke-width="1.2" />
<line x1="246.5" y1="157" x2="246.5" y2="162" stroke="#231815" stroke-width="0.96" />
<line x1="248.5" y1="157" x2="248.5" y2="162" stroke="#231815" stroke-width="0.96" />
<line x1="247.5" y1="162" x2="247.5" y2="165" stroke="#231815" stroke-width="0.96" />
<line x1="243" y1="129.5" x2="252" y2="129.5" stroke="#231815" stroke-width="1.08" />
<line x1="247.5" y1="129.5" x2="247.5" y2="137.5" stroke="#231815" stroke-width="1.08" />
<rect x="354.5" y="141.5" width="8" height="12" fill="#fff" stroke="none" stroke-width="0" />
<line x1="354.5" y1="141.5" x2="354.5" y2="154.5" stroke="#231815" stroke-width="1.5" />
<line x1="362.5" y1="141.5" x2="362.5" y2="154.5" stroke="#231815" stroke-width="1.5" />
<line x1="356.5" y1="140.5" x2="356.5" y2="154.5" stroke="#231815" stroke-width="0.96" />
<line x1="360.5" y1="140.5" x2="360.5" y2="154.5" stroke="#231815" stroke-width="0.96" />
<rect x="352" y="154.5" width="12.8" height="9.3" rx="1.8" fill="#fff" stroke="#231815" stroke-width="1.3"/>
<line x1="354.5" y1="154.6" x2="354.5" y2="163.6" stroke="#231815" stroke-width="1.2" />
<line x1="361.5" y1="154.6" x2="361.5" y2="163.6" stroke="#231815" stroke-width="1.2" />
<line x1="357.5" y1="157" x2="357.5" y2="162" stroke="#231815" stroke-width="0.96" />
<line x1="359.5" y1="157" x2="359.5" y2="162" stroke="#231815" stroke-width="0.96" />
<line x1="358.5" y1="162" x2="358.5" y2="165" stroke="#231815" stroke-width="0.96" />
<path d="M259.12 56.83 A98.4 98.4 0 1 1 425.9 160.03 C422.32 162.22 417.35 159.45 416.97 155.93 A88.8 88.8 0 1 0 267.4 61.74 Z" fill="#fff" stroke="#231815" stroke-width="1.2" stroke-linejoin="round"/>
<path d="M264.94 56.12 A93.6 93.6 0 1 1 423.28 155.45" fill="none" stroke="#231815" stroke-width="1.08" stroke-dasharray="10.5 4.2"/>
<path d="M345.66 92.02 L311.81 23.81 Q310.3 20.77 313.52 19.17 L301.34 25.22 Q304.56 23.61 306.08 26.66 L339.93 94.86 Z" fill="#fff" stroke="none" stroke-width="0" />
<path d="M313.3 19.84 L312.36 17.96 L301.08 23.56 L302.01 25.44 Z" fill="#fff" stroke="none" stroke-width="0" />
<path d="M345.66 92.02 L311.81 23.81 Q310.3 20.77 313.52 19.17 M339.93 94.86 L306.08 26.66 Q304.56 23.61 301.34 25.22" fill="none" stroke="#231815" stroke-width="1.2" />
<line x1="340.13" y1="88.06" x2="306.43" y2="20.17" stroke="#231815" stroke-width="1.08" stroke-dasharray="10.5 4.2"/>
<path d="M355.77 97.82 L410.44 44.84 Q412.88 42.48 415.37 45.08 L405.35 34.74 Q407.87 37.31 405.43 39.67 L350.76 92.65 Z" fill="#fff" stroke="none" stroke-width="0" />
<path d="M414.66 45.07 L416.17 43.6 L406.85 33.98 L405.34 35.44 Z" fill="#fff" stroke="none" stroke-width="0" />
<path d="M355.77 97.82 L410.44 44.84 Q412.88 42.48 415.37 45.08 M350.76 92.65 L405.43 39.67 Q407.87 37.31 405.35 34.74" fill="none" stroke="#231815" stroke-width="1.2" />
<line x1="357.57" y1="91.06" x2="412.01" y2="38.31" stroke="#231815" stroke-width="1.08" stroke-dasharray="10.5 4.2"/>
<path d="M353.04 108.97 L420.37 144.47 Q423.38 146.06 421.68 149.23 L428.49 136.32 Q426.83 139.51 423.82 137.93 L356.49 102.42 Z" fill="#fff" stroke="none" stroke-width="0" />
<path d="M421.47 148.56 L423.33 149.54 L429.67 137.51 L427.81 136.53 Z" fill="#fff" stroke="none" stroke-width="0" />
<path d="M353.04 108.97 L420.37 144.47 Q423.38 146.06 421.68 149.23 M356.49 102.42 L423.82 137.93 Q426.83 139.51 428.49 136.32" fill="none" stroke="#231815" stroke-width="1.2" />
<line x1="360.07" y1="108.5" x2="427.12" y2="143.85" stroke="#231815" stroke-width="1.08" stroke-dasharray="10.5 4.2"/>
<line x1="308.22" y1="19.52" x2="305.67" y2="14.09" stroke="#231815" stroke-width="0.96" />
<line x1="415.18" y1="42.06" x2="421.97" y2="36.16" stroke="#231815" stroke-width="0.96" />
<circle cx="346.8" cy="101.5" r="11.2" fill="#fff" stroke="#231815" stroke-width="1.3"/>
<circle cx="346.8" cy="101.5" r="4.9" fill="#fff" stroke="#231815" stroke-width="1.3"/>
<line x1="346.5" y1="0" x2="346.5" y2="123" stroke="#231815" stroke-width="1.08" stroke-dasharray="10.5 4.2"/>
<line x1="331" y1="101.5" x2="445.5" y2="101.5" stroke="#231815" stroke-width="1.08" stroke-dasharray="10.5 4.2"/>
<g>
<clipPath id="c30"><path d="M269.5 558.5 L269.5 493.5 L273.5 483.5 L280.5 482.5 L280.5 558.5 Z"/></clipPath>
<path clip-path="url(#c30)" d="M269.75 559.5L268.5 558.01M274.19 559.5L268.5 552.72M278.63 559.5L268.5 547.43M281.5 557.64L268.5 542.14M281.5 552.35L268.5 536.85M281.5 547.06L268.5 531.56M281.5 541.77L268.5 526.27M281.5 536.48L268.5 520.99M281.5 531.19L268.5 515.7M281.5 525.9L268.5 510.41M281.5 520.61L268.5 505.12M281.5 515.32L268.5 499.83M281.5 510.03L268.5 494.54M281.5 504.74L268.5 489.25M281.5 499.45L268.5 483.96M281.5 494.16L270.87 481.5M281.5 488.87L275.31 481.5M281.5 483.58L279.75 481.5" fill="none" stroke="#231815" stroke-width="1.25"/>
<path d="M269.5 558.5 L269.5 493.5 L273.5 483.5 L280.5 482.5 L280.5 558.5 Z" fill="none" stroke="#231815" stroke-width="1.2" />
<path d="M263.5 547.5 L269.5 541.5 L269.5 547.5 Z" fill="none" stroke="#231815" stroke-width="0.96" />
<ellipse cx="281.6" cy="494.7" rx="1.1" ry="1.7" fill="#231815"/>
<ellipse cx="281.6" cy="507.5" rx="1.1" ry="1.7" fill="#231815"/>
</g>
<g transform="translate(606 0) scale(-1 1)">
<clipPath id="c31"><path d="M269.5 558.5 L269.5 493.5 L273.5 483.5 L280.5 482.5 L280.5 558.5 Z"/></clipPath>
<path clip-path="url(#c31)" d="M268.5 484.01L270.61 481.5M268.5 489.3L275.05 481.5M268.5 494.59L279.48 481.5M268.5 499.88L281.5 484.39M268.5 505.17L281.5 489.68M268.5 510.46L281.5 494.97M268.5 515.75L281.5 500.26M268.5 521.04L281.5 505.55M268.5 526.33L281.5 510.84M268.5 531.62L281.5 516.12M268.5 536.91L281.5 521.41M268.5 542.2L281.5 526.7M268.5 547.49L281.5 531.99M268.5 552.78L281.5 537.28M268.5 558.06L281.5 542.57M271.73 559.5L281.5 547.86M276.17 559.5L281.5 553.15M280.61 559.5L281.5 558.44" fill="none" stroke="#231815" stroke-width="1.25"/>
<path d="M269.5 558.5 L269.5 493.5 L273.5 483.5 L280.5 482.5 L280.5 558.5 Z" fill="none" stroke="#231815" stroke-width="1.2" />
<path d="M263.5 547.5 L269.5 541.5 L269.5 547.5 Z" fill="none" stroke="#231815" stroke-width="0.96" />
<ellipse cx="281.6" cy="494.7" rx="1.1" ry="1.7" fill="#231815"/>
<ellipse cx="281.6" cy="507.5" rx="1.1" ry="1.7" fill="#231815"/>
</g>
<rect x="281.5" y="450.5" width="44" height="92" fill="#fff" stroke="#231815" stroke-width="1.32" />
<rect x="281.5" y="450.5" width="44" height="8" fill="#c9c5c3" stroke="#231815" stroke-width="1.56" />
<rect x="286.5" y="452.5" width="34" height="4" fill="#fff" stroke="#231815" stroke-width="1.08" />
<line x1="283.5" y1="451" x2="283.5" y2="458" stroke="#231815" stroke-width="0.96" />
<line x1="322.5" y1="451" x2="322.5" y2="458" stroke="#231815" stroke-width="0.96" />
<line x1="281" y1="480.5" x2="325" y2="480.5" stroke="#231815" stroke-width="1.56" />
<clipPath id="c32"><path d="M280.5 542.5 L325.5 542.5 L325.5 558.5 L280.5 558.5 Z"/></clipPath>
<path clip-path="url(#c32)" d="M279.5 541.88L279.88 541.5M279.5 545.27L283.27 541.5M279.5 548.66L286.66 541.5M279.5 552.06L290.06 541.5M279.5 555.45L293.45 541.5M279.5 558.85L296.85 541.5M282.24 559.5L300.24 541.5M285.63 559.5L303.63 541.5M289.03 559.5L307.03 541.5M292.42 559.5L310.42 541.5M295.82 559.5L313.82 541.5M299.21 559.5L317.21 541.5M302.6 559.5L320.6 541.5M306 559.5L324 541.5M309.39 559.5L326.5 542.39M312.79 559.5L326.5 545.79M316.18 559.5L326.5 549.18M319.58 559.5L326.5 552.58M322.97 559.5L326.5 555.97M326.36 559.5L326.5 559.36" fill="none" stroke="#231815" stroke-width="1.15"/>
<path d="M280.5 542.5 L325.5 542.5 L325.5 558.5 L280.5 558.5 Z" fill="none" stroke="#231815" stroke-width="1.2" />
<rect x="288.5" y="553.5" width="2" height="5" fill="#fff" stroke="#231815" stroke-width="0.96" />
<rect x="314.5" y="553.5" width="2" height="5" fill="#fff" stroke="#231815" stroke-width="0.96" />
<path d="M294.4 543 A8.6 8.6 0 0 1 311.6 543 Z" fill="#231815"/>
<rect x="300.5" y="536.5" width="5" height="7" fill="#fff" stroke="#231815" stroke-width="0.84" />
<line x1="303.5" y1="538.5" x2="303.5" y2="544" stroke="#231815" stroke-width="0.96" />
<rect x="215.5" y="547.5" width="54" height="11" fill="#fff" stroke="#231815" stroke-width="1.2" />
<rect x="336.5" y="547.5" width="53" height="11" fill="#fff" stroke="#231815" stroke-width="1.2" />
<line x1="215.3" y1="558.5" x2="389.4" y2="558.5" stroke="#231815" stroke-width="1.32" />
<rect x="277.5" y="446.5" width="51" height="16" fill="none" stroke="#231815" stroke-width="1.08" stroke-dasharray="7 4"/>
<line x1="262.5" y1="154" x2="262.5" y2="174.2" stroke="#231815" stroke-width="1.08" stroke-dasharray="5.5 3"/>
<line x1="262" y1="174.5" x2="269.6" y2="174.5" stroke="#231815" stroke-width="1.08" />
<line x1="282.5" y1="174.5" x2="290.4" y2="174.5" stroke="#231815" stroke-width="1.08" />
<line x1="290.5" y1="141" x2="290.5" y2="174.2" stroke="#231815" stroke-width="1.08" stroke-dasharray="5.5 3"/>
<rect x="391.5" y="236.5" width="24" height="20" fill="none" stroke="#231815" stroke-width="1.08" stroke-dasharray="5.5 3"/>
<line x1="302.5" y1="73" x2="302.5" y2="567.5" stroke="#231815" stroke-width="1.08" stroke-dasharray="10.5 4.2"/>
<line x1="83.5" y1="346.5" x2="517" y2="346.5" stroke="#231815" stroke-width="1.08" stroke-dasharray="10.5 4.2"/>
<clipPath id="c33"><path d="M46.5 85.5 L110.5 85.5 L110.5 116.5 L46.5 116.5 Z"/></clipPath>
<path clip-path="url(#c33)" d="M50.76 117.5L45.5 111.01M59.64 117.5L45.5 100.04M68.51 117.5L45.5 89.08M77.39 117.5L50.67 84.5M86.27 117.5L59.55 84.5M95.15 117.5L68.43 84.5M104.03 117.5L77.31 84.5M111.5 115.76L86.18 84.5M111.5 104.8L95.06 84.5M111.5 93.83L103.94 84.5" fill="none" stroke="#231815" stroke-width="1.1"/>
<rect x="76.5" y="87.5" width="9" height="29" fill="#fff" stroke="none" stroke-width="0" />
<line x1="46.2" y1="85.5" x2="110.8" y2="85.5" stroke="#231815" stroke-width="1.32" />
<line x1="46.2" y1="116.5" x2="110.8" y2="116.5" stroke="#231815" stroke-width="1.32" />
<path d="M76.5 116.5 L76.5 87.5 L85.5 87.5 L85.5 116.5" fill="none" stroke="#231815" stroke-width="1.2" />
<line x1="78.5" y1="88.5" x2="78.5" y2="116" stroke="#231815" stroke-width="0.84" />
<line x1="83.5" y1="88.5" x2="83.5" y2="116" stroke="#231815" stroke-width="0.84" />
<clipPath id="c34"><path d="M67.5 116.5 L90.5 116.5 L90.5 135.5 L96.5 139.5 L96.5 173.5 L67.5 173.5 Z"/></clipPath>
<path clip-path="url(#c34)" d="M71.55 174.5L66.5 169.45M78.9 174.5L66.5 162.1M86.25 174.5L66.5 154.75M93.61 174.5L66.5 147.39M97.5 171.04L66.5 140.04M97.5 163.69L66.5 132.69M97.5 156.33L66.5 125.33M97.5 148.98L66.5 117.98M97.5 141.62L71.38 115.5M97.5 134.27L78.73 115.5M97.5 126.92L86.08 115.5M97.5 119.56L93.44 115.5" fill="none" stroke="#231815" stroke-width="1.1"/>
<clipPath id="c35"><path d="M90.5 116.5 L110.5 116.5 L110.5 163.5 L96.5 163.5 L96.5 139.5 L90.5 135.5 Z"/></clipPath>
<path clip-path="url(#c35)" d="M89.5 119.24L93.24 115.5M89.5 130.83L104.83 115.5M89.5 142.43L111.5 120.43M89.5 154.03L111.5 132.03M90.62 164.5L111.5 143.62M102.22 164.5L111.5 155.22" fill="none" stroke="#231815" stroke-width="1.1"/>
<path d="M90.5 116.5 L110.5 116.5 L110.5 163.5 L96.5 163.5 L96.5 139.5 L90.5 135.5 Z" fill="none" stroke="#231815" stroke-width="1.2" />
<line x1="67.5" y1="116" x2="67.5" y2="173" stroke="#231815" stroke-width="1.44" />
<line x1="96.5" y1="139.6" x2="96.5" y2="173" stroke="#231815" stroke-width="1.32" />
<line x1="110.5" y1="85.8" x2="110.5" y2="164.9" stroke="#231815" stroke-width="1.44" />
<rect x="69.5" y="116.5" width="22" height="11" fill="#fff" stroke="#231815" stroke-width="1.2" />
<path d="M72.5 116.5 L72.5 124.5 L74.5 126.5 L88.5 126.5 L89.5 124.5 L89.5 116.5" fill="#fff" stroke="#231815" stroke-width="1.2" />
<line x1="77.5" y1="116" x2="77.5" y2="121.5" stroke="#231815" stroke-width="0.96" />
<line x1="84.5" y1="116" x2="84.5" y2="121.5" stroke="#231815" stroke-width="0.96" />
<path d="M77.5 121.5 L80.5 124.5 L84.5 121.5" fill="none" stroke="#231815" stroke-width="0.96" />
<rect x="74.5" y="127.5" width="12" height="20" fill="#fff" stroke="#231815" stroke-width="1.44" />
<line x1="77.5" y1="128" x2="77.5" y2="147" stroke="#231815" stroke-width="0.84" />
<line x1="84.5" y1="128" x2="84.5" y2="147" stroke="#231815" stroke-width="0.84" />
<path d="M75.5 147.5 L80.5 152.5 L86.5 147.5" fill="#fff" stroke="#231815" stroke-width="1.08" />
<line x1="74.7" y1="131.5" x2="86.3" y2="131.5" stroke="#231815" stroke-width="0.84" />
<line x1="80.5" y1="79" x2="80.5" y2="156" stroke="#231815" stroke-width="0.96" stroke-dasharray="6 2.5"/>
<rect x="96.5" y="163.5" width="14" height="2" fill="#231815" stroke="#231815" stroke-width="0.84" />
<clipPath id="c36"><path d="M96.5 165.5 L99.5 165.5 L99.5 173.5 L96.5 173.5 Z"/></clipPath>
<path clip-path="url(#c36)" d="M95.5 165.56L96.56 164.5M95.5 167.4L98.4 164.5M95.5 169.24L100.24 164.5M95.5 171.08L100.5 166.08M95.5 172.92L100.5 167.92M95.76 174.5L100.5 169.76M97.59 174.5L100.5 171.59M99.43 174.5L100.5 173.43" fill="none" stroke="#231815" stroke-width="0.9"/>
<path d="M96.5 165.5 L99.5 165.5 L99.5 173.5 L96.5 173.5 Z" fill="none" stroke="#231815" stroke-width="0.72" />
<line x1="110.8" y1="164.5" x2="123.8" y2="164.5" stroke="#231815" stroke-width="1.2" />
<ellipse cx="108.3" cy="118.6" rx="1.6" ry="2" fill="#fff" stroke="#231815" stroke-width="1.1"/>
<ellipse cx="109.9" cy="134.8" rx="1.6" ry="2" fill="#fff" stroke="#231815" stroke-width="1.1"/>
<ellipse cx="109.9" cy="151" rx="1.6" ry="2" fill="#fff" stroke="#231815" stroke-width="1.1"/>
<ellipse cx="97.3" cy="144.6" rx="1.3" ry="2" fill="#fff" stroke="#231815" stroke-width="1.1"/>
<ellipse cx="97.3" cy="155.6" rx="1.3" ry="2" fill="#fff" stroke="#231815" stroke-width="1.1"/>
<rect x="88.5" y="136.5" width="6" height="3" fill="#fff" stroke="#231815" stroke-width="0.84" />
<path d="M51.5 173.5 L67.5 154.5 L67.5 173.5 Z" fill="#231815" stroke="#231815" stroke-width="0.6" />
<path d="M61.5 173.5 L67.5 165.5 L67.5 173.5 Z" fill="#fff" stroke="#231815" stroke-width="0.6" />
<line x1="46.2" y1="80.5" x2="112.3" y2="80.5" stroke="#231815" stroke-width="1.2" />
<path d="M112.5 75.5 L112.5 82.5 L123.5 82.5" fill="none" stroke="#231815" stroke-width="1.2" />
<line x1="112.3" y1="82.1" x2="110.8" y2="85.8" stroke="#231815" stroke-width="1.2" />
<rect x="46.5" y="75.5" width="77" height="98" fill="none" stroke="#231815" stroke-width="1.2" stroke-dasharray="6.2 2.4"/>
<line x1="130.8" y1="99.2" x2="108.8" y2="118" stroke="#231815" stroke-width="1.08" />
<line x1="130.8" y1="121.6" x2="111" y2="134.6" stroke="#231815" stroke-width="1.08" />
<line x1="130.8" y1="121.6" x2="111" y2="150.8" stroke="#231815" stroke-width="1.08" />
<line x1="43.5" y1="117" x2="97" y2="145" stroke="#231815" stroke-width="1.08" />
<line x1="43.5" y1="117" x2="97" y2="156" stroke="#231815" stroke-width="1.08" />
<line x1="42" y1="117" x2="90" y2="151" stroke="#231815" stroke-width="1.08" />
<line x1="135" y1="171.1" x2="108.5" y2="165.5" stroke="#231815" stroke-width="1.08" />
<clipPath id="cpSeat"><rect x="531.4" y="62.5" width="68.1" height="60"/></clipPath>
<g clip-path="url(#cpSeat)">
<clipPath id="c37"><path d="M554.5 69.5 L584.5 69.5 L584.5 95.5 L599.5 110.5 L599.5 118.5 L574.5 118.5 L556.5 97.5 L557.5 90.5 L554.5 82.5 Z"/></clipPath>
<path clip-path="url(#c37)" d="M555.96 119.5L553.5 116.76M565.11 119.5L553.5 106.6M574.26 119.5L553.5 96.44M583.41 119.5L553.5 86.28M592.56 119.5L553.5 76.11M600.5 118.15L555.79 68.5M600.5 107.99L564.94 68.5M600.5 97.83L574.09 68.5M600.5 87.66L583.24 68.5M600.5 77.5L592.4 68.5" fill="none" stroke="#231815" stroke-width="1.3"/>
<line x1="554.5" y1="69.2" x2="554.5" y2="82.1" stroke="#231815" stroke-width="1.56" />
<clipPath id="c38"><path d="M586.5 69.5 L599.5 69.5 L599.5 95.5 L586.5 95.5 Z"/></clipPath>
<path clip-path="url(#c38)" d="M585.5 71.83L588.83 68.5M585.5 79.75L596.75 68.5M585.5 87.67L600.5 72.67M585.5 95.59L600.5 80.59M592.5 96.5L600.5 88.5M600.42 96.5L600.5 96.42" fill="none" stroke="#231815" stroke-width="1.2"/>
<line x1="586.9" y1="95.5" x2="599.5" y2="95.5" stroke="#231815" stroke-width="1.2" />
<line x1="585.5" y1="69.2" x2="585.5" y2="95" stroke="#231815" stroke-width="1.8" stroke-opacity="0.6"/>
<rect x="567.5" y="78.5" width="13" height="10" fill="#fff" stroke="#231815" stroke-width="1.32" />
<line x1="566.6" y1="84.5" x2="575.1" y2="84.5" stroke="#231815" stroke-width="1.08" />
<line x1="580.7" y1="84.5" x2="588.5" y2="84.5" stroke="#231815" stroke-width="1.08" />
<rect x="542.5" y="69.5" width="12" height="13" fill="#fff" stroke="#231815" stroke-width="1.2" />
<line x1="551.5" y1="69.2" x2="551.5" y2="82.1" stroke="#231815" stroke-width="1.08" />
<line x1="540.9" y1="76.5" x2="550.4" y2="76.5" stroke="#231815" stroke-width="1.08" />
<clipPath id="c39"><path d="M543.5 83.5 L554.5 82.5 L557.5 90.5 L553.5 95.5 Z"/></clipPath>
<path clip-path="url(#c39)" d="M542.5 85.41L546.41 81.5M542.5 89.65L550.65 81.5M542.5 93.9L554.9 81.5M544.14 96.5L558.5 82.14M548.38 96.5L558.5 86.38M552.62 96.5L558.5 90.62M556.87 96.5L558.5 94.87" fill="none" stroke="#231815" stroke-width="1"/>
<path d="M543.5 83.5 L554.5 82.5 L557.5 90.5 L553.5 95.5 Z" fill="none" stroke="#231815" stroke-width="1.08" />
<line x1="531.4" y1="74.8" x2="560" y2="98.5" stroke="#231815" stroke-width="1.32" />
<line x1="560" y1="98.5" x2="599.5" y2="133" stroke="#231815" stroke-width="1.2" />
<line x1="531.4" y1="90" x2="539.2" y2="82.2" stroke="#231815" stroke-width="1.08" />
<line x1="531.4" y1="115.5" x2="537" y2="110" stroke="#231815" stroke-width="1.08" />
<line x1="553.2" y1="118" x2="560.5" y2="110.6" stroke="#231815" stroke-width="1.08" />
<line x1="542.6" y1="69.5" x2="599.5" y2="69.5" stroke="#231815" stroke-width="1.32" />
<line x1="572.8" y1="62.5" x2="599.5" y2="65.8" stroke="#231815" stroke-width="1.08" />
<path d="M531.4 118.9 L599.5 118.9" stroke="#231815" stroke-width="2"/>
</g>
<ellipse cx="561.6" cy="96.1" rx="5.7" ry="3.5" transform="rotate(38 561.6 96.1)" fill="#231815"/>
<path d="M562.5 102.5 L576.5 102.5 L576.5 109.5 L563.5 109.5 Z" fill="#231815" stroke="#231815" stroke-width="0.6" />
<rect x="531.5" y="62.5" width="68" height="60" fill="none" stroke="#231815" stroke-width="1.2" stroke-dasharray="6.3 2.7"/>
<line x1="541" y1="110" x2="557.5" y2="99.5" stroke="#231815" stroke-width="1.08" />
<line x1="559.4" y1="124.5" x2="562.8" y2="108.8" stroke="#231815" stroke-width="1.08" />
<line x1="566.1" y1="124.5" x2="571.2" y2="108.8" stroke="#231815" stroke-width="1.08" />
<line x1="556.5" y1="153.9" x2="559.4" y2="124.5" stroke="#231815" stroke-width="1.08" />
<line x1="556.5" y1="153.9" x2="566.1" y2="124.5" stroke="#231815" stroke-width="1.08" />
<line x1="606.3" y1="148.2" x2="581.8" y2="85" stroke="#231815" stroke-width="1.08" />
<line x1="49.2" y1="513.6" x2="59.5" y2="503.3" stroke="#231815" stroke-width="1.08" />
<line x1="64.8" y1="513.6" x2="75.1" y2="503.3" stroke="#231815" stroke-width="1.08" />
<line x1="81.6" y1="513.6" x2="91.9" y2="503.3" stroke="#231815" stroke-width="1.08" />
<line x1="98.4" y1="513.6" x2="108.7" y2="503.3" stroke="#231815" stroke-width="1.08" />
<line x1="114.3" y1="513.6" x2="124.6" y2="503.3" stroke="#231815" stroke-width="1.08" />
<line x1="131.2" y1="513.6" x2="141.5" y2="503.3" stroke="#231815" stroke-width="1.08" />
<line x1="49.2" y1="530" x2="55" y2="524.2" stroke="#231815" stroke-width="1.08" />
<line x1="141.8" y1="518" x2="147.6" y2="512.6" stroke="#231815" stroke-width="1.08" />
<line x1="55" y1="513.5" x2="140.9" y2="513.5" stroke="#231815" stroke-width="1.68" />
<rect x="64.5" y="513.5" width="67" height="10" fill="#fff" stroke="#231815" stroke-width="1.2" />
<rect x="57.5" y="514.5" width="7" height="8" fill="#fff" stroke="#231815" stroke-width="1.08" />
<circle cx="61.25" cy="518.4" r="2" fill="#fff" stroke="#231815" stroke-width="0.8"/>
<rect x="131.5" y="514.5" width="7" height="8" fill="#fff" stroke="#231815" stroke-width="1.08" />
<circle cx="134.75" cy="518.4" r="2" fill="#fff" stroke="#231815" stroke-width="0.8"/>
<line x1="57.7" y1="524.5" x2="139.1" y2="524.5" stroke="#231815" stroke-width="1.2" />
<line x1="57.7" y1="526.5" x2="139.1" y2="526.5" stroke="#231815" stroke-width="1.08" stroke-opacity="0.55"/>
<line x1="55.5" y1="512.7" x2="55.5" y2="534" stroke="#231815" stroke-width="1.32" />
<line x1="56.5" y1="512.7" x2="56.5" y2="534" stroke="#231815" stroke-width="0.96" stroke-dasharray="2.5 1.5"/>
<line x1="139.5" y1="512.7" x2="139.5" y2="534" stroke="#231815" stroke-width="1.2" />
<line x1="140.5" y1="512.7" x2="140.5" y2="534" stroke="#231815" stroke-width="1.32" />
<line x1="97.5" y1="501.2" x2="97.5" y2="535" stroke="#231815" stroke-width="1.08" stroke-dasharray="6 2.5"/>
<rect x="49.5" y="503.5" width="98" height="31" fill="none" stroke="#231815" stroke-width="1.2" stroke-dasharray="7 3.3"/>
<line x1="60.9" y1="524.2" x2="69.5" y2="558.6" stroke="#231815" stroke-width="1.08" />
<g style="will-change:transform">
<text x="59.7" y="34.7" font-size="10.6" font-weight="700" textLength="75.7" lengthAdjust="spacing" >阀杆密封处结构</text>
<text x="57.7" y="51.5" font-size="10.6" font-weight="700" textLength="86.5" lengthAdjust="spacing" >防火、防吹出设计</text>
<text x="5.5" y="115.3" font-size="10.6" font-weight="700" textLength="69.7" lengthAdjust="spacing" >两道0型圈密封</text>
<text x="131.8" y="97.7" font-size="10.6" font-weight="700" textLength="64.8" lengthAdjust="spacing" >防火填料设计</text>
<text x="131.8" y="120.1" font-size="10.6" font-weight="700" textLength="70.7" lengthAdjust="spacing" >两道0型圈密封</text>
<text x="136" y="168.1" font-size="10.6" font-weight="700" textLength="60" lengthAdjust="spacing" >阀杆T型台阶</text>
<text x="136" y="184.1" font-size="10.6" font-weight="700" textLength="54" lengthAdjust="spacing" >防吹出设计</text>
<text x="548.4" y="57" font-size="10.6" font-weight="700" textLength="65.2" lengthAdjust="spacing" >四道密封结构</text>
<text x="467" y="107.8" font-size="10.6" font-weight="700" textLength="86.8" lengthAdjust="spacing" >两处非金属密封面</text>
<text x="498" y="152.6" font-size="10.6" font-weight="700" textLength="96.4" lengthAdjust="spacing" >两处硬质合金密封面</text>
<text x="608.5" y="146.2" font-size="10.6" font-weight="700" textLength="63.7" lengthAdjust="spacing" >弹簧预紧补偿</text>
<text x="66.5" y="491.5" font-size="10.6" font-weight="700" textLength="108.6" lengthAdjust="spacing" >独特固定轴处结构设计</text>
<text x="71" y="555.1" font-size="10.6" font-weight="700" textLength="118.9" lengthAdjust="spacing" >采用独特的平面轴承结构</text>
<text x="71" y="573.1" font-size="10.6" font-weight="700" textLength="119.4" lengthAdjust="spacing" >大大降低了开闭阀的扭矩</text>
<text x="71" y="584.3" font-size="10.6" font-weight="700" textLength="151.9" lengthAdjust="spacing" >减少了磨损<tspan dx="2.2">，</tspan><tspan dx="-2.2">大</tspan>大提供阀门寿命</text>
<text x="545.6" y="40" font-size="10.6" font-weight="700" textLength="53.6" lengthAdjust="spacingAndGlyphs">阀座密封处结构</text>
</g>
<line x1="55.7" y1="38.5" x2="105.3" y2="38.5" stroke="#231815" stroke-width="1.2" />
<line x1="5.5" y1="117.5" x2="43.5" y2="117.5" stroke="#231815" stroke-width="1.2" />
<line x1="130.8" y1="99.5" x2="169" y2="99.5" stroke="#231815" stroke-width="1.2" />
<line x1="130.8" y1="121.5" x2="172.6" y2="121.5" stroke="#231815" stroke-width="1.2" />
<line x1="135" y1="171.5" x2="170.6" y2="171.5" stroke="#231815" stroke-width="1.2" />
<line x1="542" y1="43.5" x2="591.8" y2="43.5" stroke="#231815" stroke-width="1.2" />
<line x1="467" y1="110.5" x2="541" y2="110.5" stroke="#231815" stroke-width="1.2" />
<line x1="496" y1="153.5" x2="556.5" y2="153.5" stroke="#231815" stroke-width="1.2" />
<line x1="606.3" y1="148.5" x2="646.5" y2="148.5" stroke="#231815" stroke-width="1.2" />
<line x1="65" y1="494.5" x2="131" y2="494.5" stroke="#231815" stroke-width="1.2" />
<line x1="69.5" y1="558.5" x2="137.3" y2="558.5" stroke="#231815" stroke-width="1.2" />
</svg>
</body></html>
